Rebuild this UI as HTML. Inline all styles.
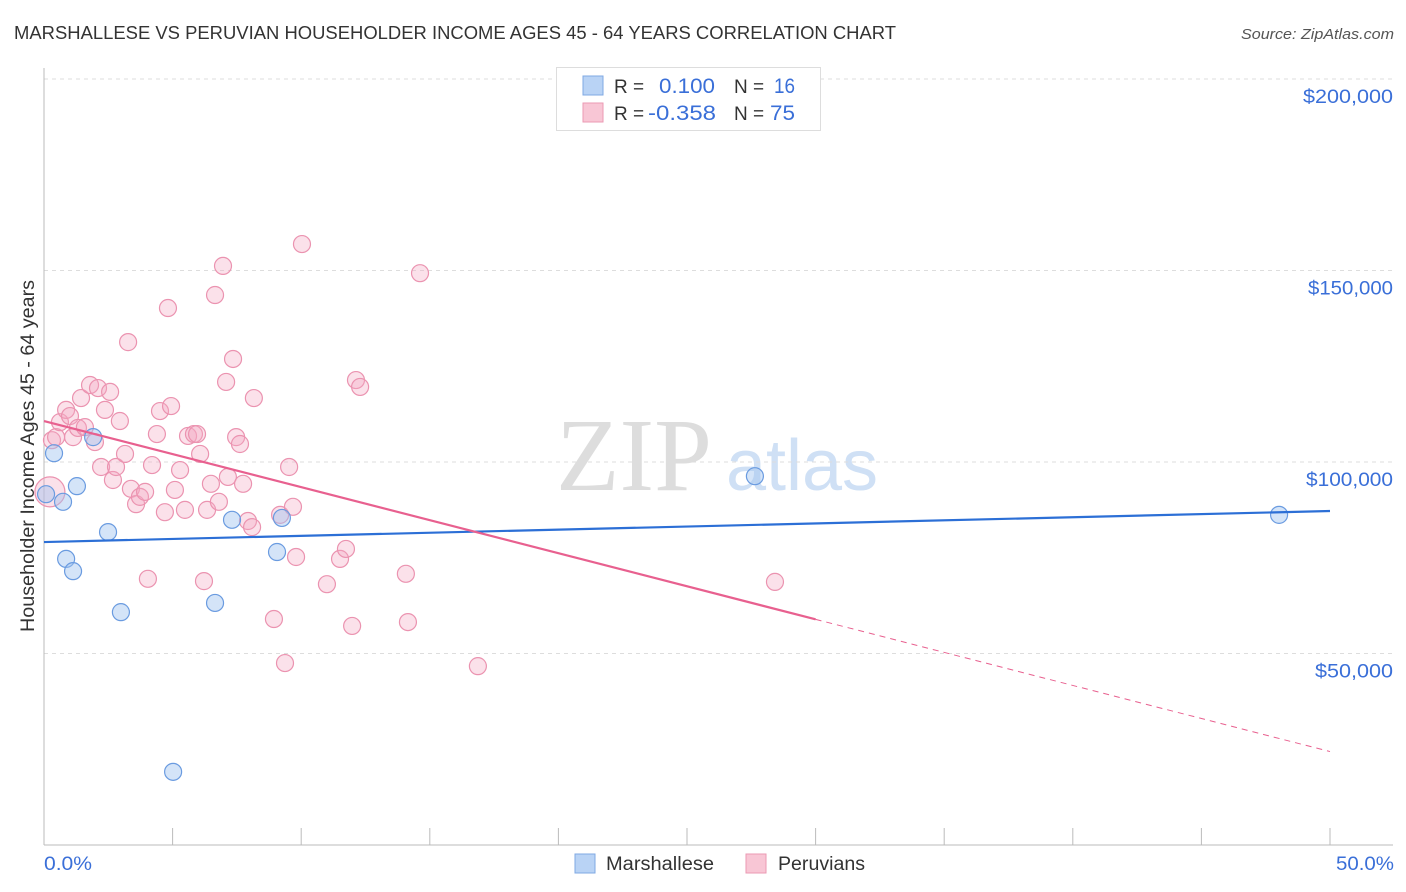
<!DOCTYPE html>
<html><head><meta charset="utf-8"><style>
body{margin:0;background:#fff;font-family:"Liberation Sans",sans-serif;}
svg{display:block}
</style></head><body>
<svg id="chart" width="1406" height="892">
<text x="14" y="39" font-size="18" fill="#333" textLength="882" lengthAdjust="spacingAndGlyphs">MARSHALLESE VS PERUVIAN HOUSEHOLDER INCOME AGES 45 - 64 YEARS CORRELATION CHART</text>
<text x="1394" y="39" font-size="15" fill="#555" font-style="italic" text-anchor="end" textLength="153" lengthAdjust="spacingAndGlyphs">Source: ZipAtlas.com</text>
<text x="634" y="490" font-size="104" fill="#ddd" font-family="Liberation Serif,serif" text-anchor="middle">ZIP</text>
<text x="802" y="490" font-size="72" fill="#cfe0f5" text-anchor="middle">atlas</text>
<g id="grid"></g>
<g id="axes"></g>
<g id="pts"></g>
<g id="lines"></g>
<text transform="translate(34,456) rotate(-90)" font-size="19" fill="#333" text-anchor="middle" textLength="352" lengthAdjust="spacingAndGlyphs">Householder Income Ages 45 - 64 years</text>
<text x="44" y="870" font-size="19" fill="#3a6fd8" textLength="48" lengthAdjust="spacingAndGlyphs">0.0%</text>
<text x="1394" y="870" font-size="19" fill="#3a6fd8" text-anchor="end" textLength="58" lengthAdjust="spacingAndGlyphs">50.0%</text>
<g>
<rect x="556.5" y="67.5" width="264" height="63" fill="#fff" stroke="#ddd"/>
<rect x="583" y="76" width="20" height="19" fill="#b9d3f5" stroke="#7fa8e3"/>
<rect x="583" y="103" width="20" height="19" fill="#f8c6d5" stroke="#eb9ab3"/>
<text x="614" y="93" font-size="19" fill="#333">R =</text>
<text x="659" y="93" font-size="21" fill="#3a6fd8" textLength="56" lengthAdjust="spacingAndGlyphs">0.100</text>
<text x="734" y="93" font-size="19" fill="#333">N =</text>
<text x="774" y="93" font-size="21" fill="#3a6fd8" textLength="21" lengthAdjust="spacingAndGlyphs">16</text>
<text x="614" y="120" font-size="19" fill="#333">R =</text>
<text x="648" y="120" font-size="21" fill="#3a6fd8" textLength="68" lengthAdjust="spacingAndGlyphs">-0.358</text>
<text x="734" y="120" font-size="19" fill="#333">N =</text>
<text x="770" y="120" font-size="21" fill="#3a6fd8" textLength="25" lengthAdjust="spacingAndGlyphs">75</text>
</g>
<g>
<rect x="575" y="854" width="20" height="19" fill="#b9d3f5" stroke="#7fa8e3"/>
<text x="606" y="870" font-size="19" fill="#333" textLength="108" lengthAdjust="spacingAndGlyphs">Marshallese</text>
<rect x="746" y="854" width="20" height="19" fill="#f8c6d5" stroke="#eb9ab3"/>
<text x="778" y="870" font-size="19" fill="#333" textLength="87" lengthAdjust="spacingAndGlyphs">Peruvians</text>
</g>
</svg>
<script>
const yTicks=[50000,100000,150000,200000];
const yTickLabels=["$50,000","$100,000","$150,000","$200,000"];
const blueX=[0.08,0.39,0.74,0.86,1.13,1.28,1.91,2.49,2.99,5.02,6.65,7.31,9.06,9.25,27.64,48.02];
const blueY=[91.6,102.3,89.6,74.7,71.5,93.7,106.5,81.7,60.8,19.1,63.2,84.9,76.5,85.4,96.3,86.2];
const pinkX=[0.23,0.31,0.47,0.62,0.86,1.01,1.13,1.32,1.44,1.59,1.79,1.98,2.10,2.22,2.37,2.57,2.68,2.80,2.95,3.15,3.27,3.38,3.58,3.73,3.93,4.04,4.20,4.39,4.51,4.70,4.82,4.94,5.09,5.29,5.48,5.60,5.83,5.95,6.07,6.22,6.34,6.49,6.65,6.80,6.96,7.08,7.15,7.35,7.47,7.62,7.74,7.93,8.09,8.16,8.94,9.18,9.37,9.53,9.68,9.80,10.03,11.00,11.51,11.74,11.98,12.13,12.29,14.07,14.15,14.62,16.87,28.42];
const pinkY=[92.2,105.7,106.5,110.4,113.6,112.0,106.5,108.9,116.7,109.1,120.1,105.2,119.3,98.7,113.6,118.3,95.3,98.7,110.7,102.1,131.3,93.0,89.0,90.9,92.2,69.5,99.2,107.3,113.3,86.9,140.2,114.6,92.7,97.9,87.5,106.8,107.3,107.3,102.1,68.9,87.5,94.3,143.6,89.6,151.2,120.9,96.1,126.9,106.5,104.7,94.3,84.6,83.0,116.7,59.0,86.2,47.5,98.7,88.3,75.2,156.9,68.1,74.7,77.3,57.2,121.4,119.6,70.8,58.2,149.3,46.7,68.7];
const blueTrend=[79.1,87.2];
const pinkTrend=[110.7,24.4];
const pinkSolidEnd=30;
const NS="http://www.w3.org/2000/svg";
const X=p=>44+p*(1286/50);
const Y=v=>845-v*(383/100000);
const labelW={"$50,000":78,"$100,000":87,"$150,000":85,"$200,000":90};
function mk(t,a,parent){const e=document.createElementNS(NS,t);for(const k in a)e.setAttribute(k,a[k]);parent.appendChild(e);return e;}
const grid=document.getElementById('grid'),axes=document.getElementById('axes'),pts=document.getElementById('pts'),lines=document.getElementById('lines');
yTicks.forEach((v,i)=>{
 const l=mk('line',{x1:44,x2:1393,y1:Y(v),y2:Y(v),stroke:'#ddd','stroke-dasharray':'4,4'},grid);
 
 
 const t=mk('text',{x:1393,y:Y(v)+24,'font-size':19,fill:'#3a6fd8','text-anchor':'end',textLength:labelW[yTickLabels[i]]||85,lengthAdjust:'spacingAndGlyphs'},grid);
 t.textContent=yTickLabels[i];
 
 
});
const ya=mk('line',{x1:44,x2:44,y1:68,y2:845,stroke:'#bbb'},axes);


const xa=mk('line',{x1:44,x2:1393,y1:845,y2:845,stroke:'#bbb'},axes);


for(let i=0;i<=10;i++){const t=mk('line',{x1:X(i*5),x2:X(i*5),y1:828,y2:845,stroke:'#bbb'},axes);
 
 }
pinkX.forEach((x,i)=>{const c=mk('circle',{cx:X(x),cy:Y(pinkY[i]*1000),r:i==0?15:8.5,fill:'rgba(244,170,195,0.35)',stroke:'#eb93b0','stroke-width':1.2},pts);
 
 });
blueX.forEach((x,i)=>{const c=mk('circle',{cx:X(x),cy:Y(blueY[i]*1000),r:8.5,fill:'rgba(160,195,240,0.45)',stroke:'#6a9be0','stroke-width':1.2},pts);
 
 });
const bl=mk('line',{x1:X(0),y1:Y(blueTrend[0]*1000),x2:X(50),y2:Y(blueTrend[1]*1000),stroke:'#2c6fd6','stroke-width':2.2},lines);


const pv=p=>pinkTrend[0]+(pinkTrend[1]-pinkTrend[0])*p/50;
const pl=mk('line',{x1:X(0),y1:Y(pv(0)*1000),x2:X(pinkSolidEnd),y2:Y(pv(pinkSolidEnd)*1000),stroke:'#e8608f','stroke-width':2.2},lines);


const pd=mk('line',{x1:X(pinkSolidEnd),y1:Y(pv(pinkSolidEnd)*1000),x2:X(50),y2:Y(pv(50)*1000),stroke:'#e8608f','stroke-width':1,'stroke-dasharray':'6,5'},lines);


</script>
</body></html>
